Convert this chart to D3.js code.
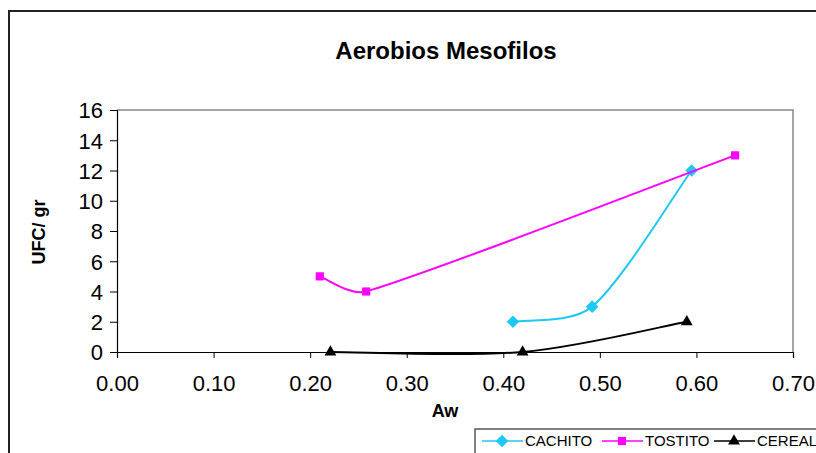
<!DOCTYPE html>
<html>
<head>
<meta charset="utf-8">
<script src="https://d3js.org/d3.v7.min.js"></script>
<style>
  body { margin: 0; background: #fff; }
  svg { display: block; font-family: "Liberation Sans", Arial, sans-serif; }
</style>
</head>
<body>
<div id="my_datavis"></div>
<script>
// data
var seriesNames = ["CACHITO", "TOSTITO", "CEREAL"];
var cachitoAw = [0.41, 0.492, 0.595];
var cachitoUfc = [2, 3, 12];
var tostitoAw = [0.21, 0.258, 0.64];
var tostitoUfc = [5, 4, 13];
var cerealAw = [0.221, 0.42, 0.59];
var cerealUfc = [0, 0, 2];
var xTicks = [0, 0.1, 0.2, 0.3, 0.4, 0.5, 0.6, 0.7];
var yTicks = [0, 2, 4, 6, 8, 10, 12, 14, 16];

var W = 816, H = 453;
var margin = { top: 110, left: 117, right: 23, bottom: 101 },
  width = W - margin.left - margin.right,
  height = H - margin.top - margin.bottom;

var svg = d3.select("#my_datavis")
  .append("svg")
  .attr("width", W)
  .attr("height", H);

// outer chart frame (runs off the right and bottom edges)
svg.append("rect")
  .attr("x", 9).attr("y", 11)
  .attr("width", W).attr("height", H)
  .attr("fill", "#fff")
  .attr("stroke", "#222")
  .attr("stroke-width", 2);

svg.append("text")
  .attr("x", 446).attr("y", 59)
  .attr("text-anchor", "middle")
  .attr("font-size", 24)
  .attr("font-weight", "bold")
  .text("Aerobios Mesofilos");

var g = svg.append("g")
  .attr("transform", "translate(" + margin.left + "," + margin.top + ")");

var x = d3.scaleLinear().domain([0, 0.7]).range([0, width]);
var y = d3.scaleLinear().domain([0, 16]).range([height, 0]);

// plot area border, grey on top and right
g.append("path")
  .attr("d", "M0,0H" + width + "V" + height)
  .attr("fill", "none")
  .attr("stroke", "#888")
  .attr("stroke-width", 1.5);

var xAxis = g.append("g")
  .attr("transform", "translate(0," + height + ")")
  .call(d3.axisBottom(x).tickValues(xTicks).tickSize(6).tickPadding(17).tickFormat(d3.format(".2f")));
var yAxis = g.append("g")
  .call(d3.axisLeft(y).tickValues(yTicks).tickSize(7).tickPadding(7));

[xAxis, yAxis].forEach(function(a) {
  a.select(".domain").attr("stroke", "#000").attr("stroke-width", 1.2);
  a.selectAll(".tick line").attr("stroke", "#000");
  a.selectAll(".tick text")
    .attr("fill", "#000")
    .attr("font-size", 22)
    .attr("font-family", "Liberation Sans, Arial, sans-serif");
});
yAxis.selectAll(".tick text").attr("dy", "0.36em");

svg.append("text")
  .attr("x", 445).attr("y", 417)
  .attr("text-anchor", "middle")
  .attr("font-size", 18)
  .attr("font-weight", "bold")
  .text("Aw");

svg.append("text")
  .attr("transform", "translate(45,232) rotate(-90)")
  .attr("text-anchor", "middle")
  .attr("font-size", 18)
  .attr("font-weight", "bold")
  .text("UFC/ gr");

var colors = ["#1ec8f5", "#ff00ff", "#000000"];
var shapes = [d3.symbolDiamond2, d3.symbolSquare2, d3.symbolTriangle2];
var shapeSizes = [100, 85, 100];
var allAw = [cachitoAw, tostitoAw, cerealAw];
var allUfc = [cachitoUfc, tostitoUfc, cerealUfc];

// smoothed line like the spreadsheet one: catmull-rom tangents,
// kept no longer than a third of the segment so short hops don't loop
function smoothPath(pts) {
  var p = pts.map(function(d) { return [x(d[0]), y(d[1])]; });
  var n = p.length;
  function tangent(i, segLen) {
    var a = p[Math.max(i - 1, 0)], b = p[Math.min(i + 1, n - 1)];
    var tx = (b[0] - a[0]) / 6, ty = (b[1] - a[1]) / 6;
    var len = Math.sqrt(tx * tx + ty * ty), cap = segLen / 3;
    if (len > cap) { tx *= cap / len; ty *= cap / len; }
    return [tx, ty];
  }
  var path = d3.path();
  path.moveTo(p[0][0], p[0][1]);
  for (var i = 0; i < n - 1; i++) {
    var dx = p[i + 1][0] - p[i][0], dy = p[i + 1][1] - p[i][1];
    var seg = Math.sqrt(dx * dx + dy * dy);
    var t0 = tangent(i, seg), t1 = tangent(i + 1, seg);
    path.bezierCurveTo(p[i][0] + t0[0], p[i][1] + t0[1],
      p[i + 1][0] - t1[0], p[i + 1][1] - t1[1],
      p[i + 1][0], p[i + 1][1]);
  }
  return path.toString();
}

seriesNames.forEach(function(name, i) {
  var pts = allAw[i].map(function(a, j) { return [a, allUfc[i][j]]; });
  g.append("path")
    .attr("fill", "none")
    .attr("stroke", colors[i])
    .attr("stroke-width", 2)
    .attr("d", smoothPath(pts));
  g.selectAll(".pt" + i)
    .data(pts)
    .enter()
    .append("path")
    .attr("transform", function(d) { return "translate(" + x(d[0]) + "," + y(d[1]) + ")"; })
    .attr("d", d3.symbol().type(shapes[i]).size(shapeSizes[i]))
    .attr("fill", colors[i]);
});

// legend
var legend = svg.append("g");
legend.append("rect")
  .attr("x", 475).attr("y", 429)
  .attr("width", 400).attr("height", 60)
  .attr("fill", "#fff")
  .attr("stroke", "#555")
  .attr("stroke-width", 1.5);

var legendX = [482, 602, 714];
seriesNames.forEach(function(name, i) {
  var lx = legendX[i];
  legend.append("line")
    .attr("x1", lx).attr("x2", lx + 41)
    .attr("y1", 441).attr("y2", 441)
    .attr("stroke", colors[i])
    .attr("stroke-width", 1.5);
  legend.append("path")
    .attr("transform", "translate(" + (lx + 20) + ",441)")
    .attr("d", d3.symbol().type(shapes[i]).size(shapeSizes[i]))
    .attr("fill", colors[i]);
  legend.append("text")
    .attr("x", lx + 43).attr("y", 446)
    .attr("font-size", 15)
    .text(name);
});
</script>
</body>
</html>
